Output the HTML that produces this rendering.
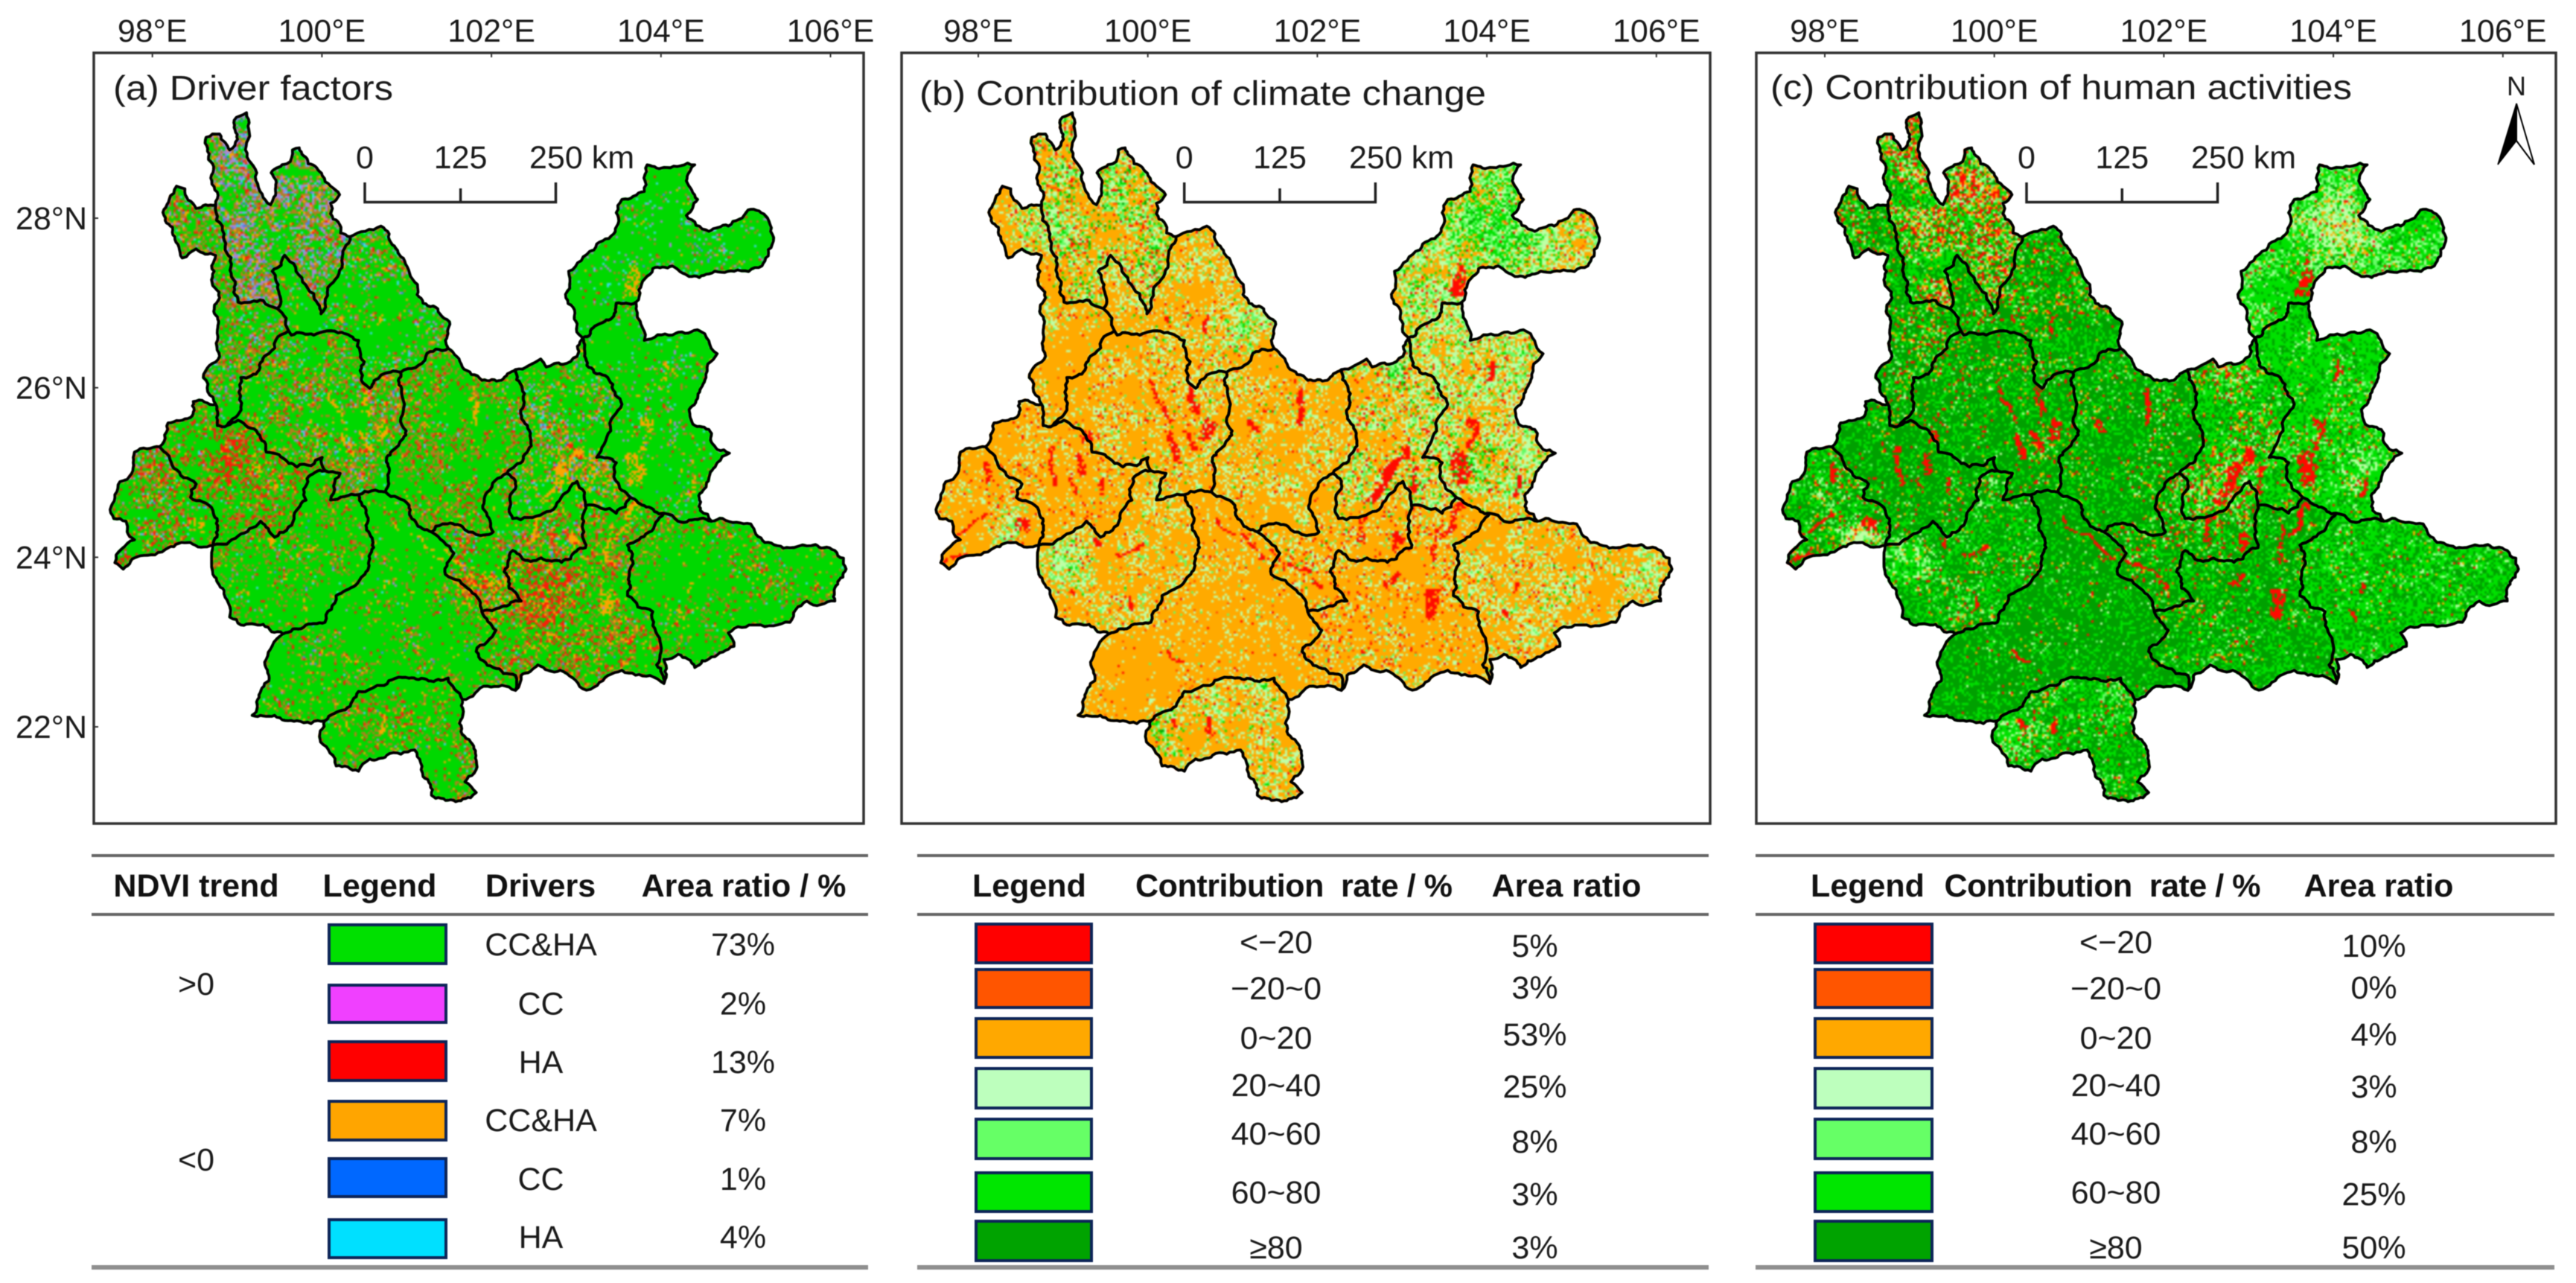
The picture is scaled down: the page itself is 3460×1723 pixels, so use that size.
<!DOCTYPE html>
<html lang="en">
<head>
<meta charset="utf-8">
<title>NDVI driver factors in Yunnan</title>
<style>
html,body{margin:0;padding:0;background:#fff;}
#stage{position:relative;width:3460px;height:1723px;overflow:hidden;background:#fff;}
#stage canvas{position:absolute;top:140px;filter:blur(1.1px);}
#overlay{position:absolute;left:0;top:0;filter:blur(.6px);}
#overlay text{font-family:"Liberation Sans",Arial,sans-serif;font-size:43px;fill:#1a1a1a;white-space:pre;}
#overlay .hd{font-weight:bold;fill:#111;}
#overlay .c{text-anchor:middle;}
.rule{stroke:#666;stroke-width:4;}
.rule-b{stroke:#8f8f8f;stroke-width:6;}
.sw{stroke:#0d2558;stroke-width:4;}
</style>
</head>
<body>
<div id="stage">
<svg id="overlay" width="3460" height="1723" viewBox="0 0 3460 1723" xmlns="http://www.w3.org/2000/svg">

  <g id="panel-a">
    <rect x="126" y="71" width="1034" height="1035" fill="none" stroke="#333" stroke-width="3.5"/>
    <text x="152" y="134" style="font-size:46px" textLength="376" lengthAdjust="spacingAndGlyphs">(a) Driver factors</text>
    <g>
      <path d="M490 245V271.5H746.5V245M618.6 253V271.5" fill="none" stroke="#222" stroke-width="3.5"/>
      <text class="c" x="490" y="226">0</text><text class="c" x="618.6" y="226">125</text><text x="711" y="226">250 km</text>
    </g>
  </g>

  <g id="panel-b">
    <rect x="1211" y="71" width="1086" height="1035" fill="none" stroke="#333" stroke-width="3.5"/>
    <text x="1235" y="141" style="font-size:46px" textLength="761" lengthAdjust="spacingAndGlyphs">(b) Contribution of climate change</text>
    <g>
      <path d="M1590.7 245V271.5H1847.4V245M1719 253V271.5" fill="none" stroke="#222" stroke-width="3.5"/>
      <text class="c" x="1590.7" y="226">0</text><text class="c" x="1719" y="226">125</text><text x="1812" y="226">250 km</text>
    </g>
  </g>

  <g id="panel-c">
    <rect x="2359" y="71" width="1074" height="1035" fill="none" stroke="#333" stroke-width="3.5"/>
    <text x="2378" y="133" style="font-size:46px" textLength="781" lengthAdjust="spacingAndGlyphs">(c) Contribution of human activities</text>
    <g>
      <path d="M2722 245V271.5H2978.6V245M2850.3 253V271.5" fill="none" stroke="#222" stroke-width="3.5"/>
      <text class="c" x="2722" y="226">0</text><text class="c" x="2850.3" y="226">125</text><text x="2943" y="226">250 km</text>
    </g>
    <g>
      <text class="c" x="3380" y="128" style="font-size:36px">N</text>
      <path d="M3380 139L3355 221L3380 189Z" fill="#000" stroke="#000" stroke-width="1.5"/>
      <path d="M3380 139L3404 221L3380 189Z" fill="#fff" stroke="#000" stroke-width="2"/>
    </g>
  </g>

  <g id="table-a">
    <line class="rule" x1="123" y1="1149" x2="1166" y2="1149"/>
    <line class="rule" x1="123" y1="1228" x2="1166" y2="1228"/>
    <line class="rule-b" x1="123" y1="1702" x2="1166" y2="1702"/>
    <text class="hd c" x="263.5" y="1204">NDVI trend</text>
    <text class="hd c" x="510" y="1204">Legend</text>
    <text class="hd c" x="726" y="1204">Drivers</text>
    <text class="hd c" x="999" y="1204">Area ratio / %</text>
    <text class="c" x="263.5" y="1336">&gt;0</text>
    <text class="c" x="263.5" y="1572">&lt;0</text>
    <rect class="sw" x="442" y="1242" width="157" height="52" fill="#00e000"/>
    <rect class="sw" x="442" y="1323" width="157" height="50" fill="#f040ff"/>
    <rect class="sw" x="442" y="1399" width="157" height="52" fill="#ff0000"/>
    <rect class="sw" x="442" y="1479" width="157" height="52" fill="#ffa500"/>
    <rect class="sw" x="442" y="1556" width="157" height="51" fill="#0068ff"/>
    <rect class="sw" x="442" y="1638" width="157" height="51" fill="#00e0ff"/>
    <text class="c" x="726.5" y="1283">CC&amp;HA</text><text class="c" x="998" y="1283">73%</text>
    <text class="c" x="726.5" y="1362.5">CC</text><text class="c" x="998" y="1362.5">2%</text>
    <text class="c" x="726.5" y="1441">HA</text><text class="c" x="998" y="1441">13%</text>
    <text class="c" x="726.5" y="1519">CC&amp;HA</text><text class="c" x="998" y="1519">7%</text>
    <text class="c" x="726.5" y="1598">CC</text><text class="c" x="998" y="1598">1%</text>
    <text class="c" x="726.5" y="1676">HA</text><text class="c" x="998" y="1676">4%</text>
  </g>

  <g id="table-b">
    <line class="rule" x1="1232" y1="1149" x2="2295" y2="1149"/>
    <line class="rule" x1="1232" y1="1228" x2="2295" y2="1228"/>
    <line class="rule-b" x1="1232" y1="1702" x2="2295" y2="1702"/>
    <text class="hd c" x="1382.4" y="1204">Legend</text>
    <text class="hd" x="1525" y="1204" textLength="426" lengthAdjust="spacing">Contribution  rate / %</text>
    <text class="hd c" x="2104" y="1204">Area ratio</text>
    <rect class="sw" x="1311" y="1241" width="155" height="52" fill="#ff0000"/>
    <rect class="sw" x="1311" y="1302" width="155" height="51" fill="#ff5500"/>
    <rect class="sw" x="1311" y="1368" width="155" height="52" fill="#ffa800"/>
    <rect class="sw" x="1311" y="1435" width="155" height="53" fill="#bdffbd"/>
    <rect class="sw" x="1311" y="1503" width="155" height="53" fill="#66ff66"/>
    <rect class="sw" x="1311" y="1575" width="155" height="52" fill="#00e600"/>
    <rect class="sw" x="1311" y="1640" width="155" height="53" fill="#00a300"/>
    <text class="c" x="1714" y="1280">&lt;−20</text><text class="c" x="2061.5" y="1285">5%</text>
    <text class="c" x="1714" y="1342">−20~0</text><text class="c" x="2061.5" y="1341">3%</text>
    <text class="c" x="1714" y="1408.5">0~20</text><text class="c" x="2061.5" y="1404">53%</text>
    <text class="c" x="1714" y="1472">20~40</text><text class="c" x="2061.5" y="1474">25%</text>
    <text class="c" x="1714" y="1537">40~60</text><text class="c" x="2061.5" y="1548">8%</text>
    <text class="c" x="1714" y="1616">60~80</text><text class="c" x="2061.5" y="1618.5">3%</text>
    <text class="c" x="1714" y="1690">≥80</text><text class="c" x="2061.5" y="1690">3%</text>
  </g>

  <g id="table-c">
    <line class="rule" x1="2358" y1="1149" x2="3431" y2="1149"/>
    <line class="rule" x1="2358" y1="1228" x2="3431" y2="1228"/>
    <line class="rule-b" x1="2358" y1="1702" x2="3431" y2="1702"/>
    <text class="hd c" x="2508.5" y="1204">Legend</text>
    <text class="hd" x="2611.5" y="1204" textLength="425" lengthAdjust="spacing">Contribution  rate / %</text>
    <text class="hd c" x="3195" y="1204">Area ratio</text>
    <rect class="sw" x="2438" y="1241" width="157" height="52" fill="#ff0000"/>
    <rect class="sw" x="2438" y="1302" width="157" height="51" fill="#ff5500"/>
    <rect class="sw" x="2438" y="1368" width="157" height="52" fill="#ffa800"/>
    <rect class="sw" x="2438" y="1435" width="157" height="53" fill="#bdffbd"/>
    <rect class="sw" x="2438" y="1503" width="157" height="53" fill="#66ff66"/>
    <rect class="sw" x="2438" y="1575" width="157" height="52" fill="#00e600"/>
    <rect class="sw" x="2438" y="1640" width="157" height="53" fill="#00a300"/>
    <text class="c" x="2842" y="1280">&lt;−20</text><text class="c" x="3188.6" y="1285">10%</text>
    <text class="c" x="2842" y="1342">−20~0</text><text class="c" x="3188.6" y="1341">0%</text>
    <text class="c" x="2842" y="1408.5">0~20</text><text class="c" x="3188.6" y="1404">4%</text>
    <text class="c" x="2842" y="1472">20~40</text><text class="c" x="3188.6" y="1474">3%</text>
    <text class="c" x="2842" y="1537">40~60</text><text class="c" x="3188.6" y="1548">8%</text>
    <text class="c" x="2842" y="1616">60~80</text><text class="c" x="3188.6" y="1618.5">25%</text>
    <text class="c" x="2842" y="1690">≥80</text><text class="c" x="3188.6" y="1690">50%</text>
  </g>
</svg>
</div>

<script>
// Axis values
const lonTicks = [98, 100, 102, 104, 106];
const latTicks = [28, 26, 24, 22];
const panelNames = ['a', 'b', 'c'];

// Boundary arcs, in traced map units
const O_dq=[[385,385],[378,340],[372,300],[368,258],[392,252],[402,268],[410,282],[424,262],[418,226],[440,212],[443,262],[452,312],[468,365],[483,385],[484,325],[512,308],[522,282],[534,278],[550,308],[575,330],[590,350],[606,366],[590,382],[590,402],[608,438],[625,445]];
const A_dq_lj=[[625,445],[610,490],[590,535],[573,590],[560,552],[540,530],[508,480],[486,510],[495,580]];
const A_dq_nj=[[495,580],[470,565],[425,568],[420,530],[400,440],[385,385]];
const O_lj=[[625,445],[652,435],[680,425],[700,460],[722,490],[745,535],[755,570],[785,590],[802,605],[795,640],[800,655]];
const A_lj_cx=[[800,655],[760,670],[715,700]];
const A_lj_dl=[[715,700],[680,705],[660,730],[645,715],[650,680],[640,640],[610,625],[560,630],[520,630],[515,622]];
const A_lj_nj=[[515,622],[495,580]];
const O_nj=[[385,385],[350,392],[330,355],[315,350],[302,375],[295,415],[312,445],[325,485],[350,468],[385,480],[392,560],[388,620],[392,670],[363,710],[385,760]];
const A_nj_bs=[[385,760],[388,800],[405,800]];
const A_nj_dl=[[405,800],[430,765],[430,710],[480,665],[515,622]];
const A_dl_cx=[[715,700],[722,760],[725,810],[690,860],[688,925]];
const A_dl_pe=[[688,925],[640,930]];
const A_dl_lc=[[640,930],[590,940],[607,890],[580,885]];
const A_dl_bs=[[580,885],[575,860],[530,878],[475,850],[460,815],[425,790],[405,800]];
const A_bs_lc=[[580,885],[548,900],[525,975],[490,1010],[465,980],[380,1025]];
const O_bs=[[385,760],[345,755],[340,785],[300,795],[285,840]];
const A_bs_dh=[[285,840],[310,880],[350,910],[340,935],[380,960],[380,1025]];
const O_dh=[[285,840],[240,850],[235,890],[205,930],[203,975],[225,980],[240,1015],[205,1058],[220,1070],[250,1045],[300,1030],[380,1025]];
const A_lc_pe=[[640,930],[655,970],[635,1100],[600,1120],[580,1170],[505,1192]];
const O_lc=[[505,1192],[430,1175],[410,1160],[400,1110],[380,1080],[380,1025]];
const A_pe_cx=[[688,925],[730,950],[770,1000]];
const A_pe_yx=[[770,1000],[810,1040],[795,1080],[840,1110],[860,1150]];
const A_pe_hh=[[860,1150],[885,1185],[850,1225],[920,1270],[920,1298]];
const O_pe1=[[920,1298],[870,1290],[825,1315]];
const A_pe_xs=[[825,1315],[800,1275],[730,1275],[640,1300],[580,1355]];
const O_pe2=[[580,1355],[530,1355],[490,1345],[450,1345],[480,1280],[475,1240],[505,1192]];
const O_xs=[[825,1315],[820,1360],[840,1395],[850,1430],[830,1470],[850,1490],[840,1500],[770,1495],[755,1460],[740,1410],[690,1420],[640,1450],[600,1440],[572,1395],[580,1355]];
const O_cx=[[800,655],[825,690],[860,715],[895,715],[920,695]];
const A_cx_km=[[920,695],[932,730],[945,810],[920,875],[905,890]];
const A_cx_yx=[[905,890],[870,925],[865,960],[880,1000],[850,1005],[825,990],[790,985],[770,1000]];
const O_km=[[920,695],[965,675],[975,690],[1005,685],[1030,670],[1040,635]];
const A_km_qj=[[1040,635],[1060,700],[1110,760],[1090,810],[1065,860],[1100,870],[1100,905],[1125,935]];
const A_km_hh=[[1125,935],[1100,965],[1045,950]];
const A_km_yx=[[1045,950],[1030,905],[1005,930],[970,965],[915,975],[920,905],[905,890]];
const A_yx_hh=[[1045,950],[1045,1030],[985,1055],[915,1035],[900,1075],[930,1130],[860,1150]];
const A_hh_qj=[[1125,935],[1185,965]];
const A_hh_ws=[[1185,965],[1120,1025],[1130,1060],[1120,1120],[1165,1150],[1172,1250],[1185,1285]];
const O_hh=[[1185,1285],[1160,1270],[1110,1260],[1085,1270],[1040,1295],[1000,1260],[960,1250],[930,1270],[920,1298]];
const A_qj_ws=[[1185,965],[1210,980],[1250,975],[1270,980]];
const O_ws=[[1270,980],[1290,975],[1340,985],[1365,1020],[1410,1030],[1470,1030],[1490,1035],[1510,1070],[1490,1130],[1440,1130],[1410,1170],[1350,1175],[1300,1190],[1310,1215],[1270,1235],[1240,1255],[1210,1230],[1185,1240],[1185,1285]];
const A_qj_zt=[[1040,635],[1090,600],[1100,570],[1135,568]];
const O_qj=[[1135,568],[1140,600],[1150,640],[1200,630],[1245,620],[1280,665],[1260,710],[1230,770],[1240,800],[1270,815],[1280,845],[1302,852],[1280,870],[1265,900],[1250,960],[1270,980]];
const O_zt=[[1040,635],[1025,600],[1010,560],[1015,510],[1060,470],[1095,440],[1100,400],[1110,375],[1150,360],[1155,310],[1190,315],[1240,310],[1225,340],[1245,375],[1225,405],[1265,435],[1300,425],[1335,395],[1370,410],[1378,460],[1360,500],[1310,510],[1265,515],[1230,520],[1200,500],[1165,505],[1140,545],[1135,568]];
const R = a => a.slice().reverse();

const regionNames = ['diqing','nujiang','lijiang','dali','baoshan','dehong','lincang','puer','xishuangbanna','chuxiong','kunming','yuxi','honghe','wenshan','qujing','zhaotong'];
const regionArcs = [
  [O_dq,A_dq_lj,A_dq_nj],
  [O_nj,A_nj_bs,A_nj_dl,A_lj_nj,A_dq_nj],
  [R(A_dq_lj),O_lj,A_lj_cx,A_lj_dl,A_lj_nj],
  [R(A_lj_dl),A_dl_cx,A_dl_pe,A_dl_lc,A_dl_bs,A_nj_dl],
  [O_bs,A_bs_dh,R(A_bs_lc),A_dl_bs,R(A_nj_bs)],
  [O_dh,R(A_bs_dh)],
  [R(A_bs_lc),R(A_dl_lc),A_lc_pe,O_lc],
  [R(A_lc_pe),R(A_dl_pe),A_pe_cx,A_pe_yx,A_pe_hh,O_pe1,A_pe_xs,O_pe2],
  [R(A_pe_xs),O_xs],
  [R(A_lj_cx),O_cx,A_cx_km,A_cx_yx,R(A_pe_cx),R(A_dl_cx)],
  [R(A_cx_km),O_km,A_km_qj,A_km_hh,A_km_yx],
  [R(A_cx_yx),R(A_km_yx),A_yx_hh,R(A_pe_yx)],
  [R(A_yx_hh),R(A_km_hh),A_hh_qj,A_hh_ws,O_hh,R(A_pe_hh)],
  [A_qj_ws,O_ws,R(A_hh_ws)],
  [O_qj,R(A_qj_ws),R(A_hh_qj),R(A_km_qj),A_qj_zt],
  [O_zt,R(A_qj_zt)]
];

// Class palettes and per-prefecture class shares
const driverColors = [[0,216,0],[170,130,215],[250,30,10],[250,165,0],[70,130,230],[60,215,235],[178,125,30]];
const rateColors = [[255,10,0],[255,85,0],[255,170,0],[190,255,165],[100,250,100],[0,225,0],[0,160,0]];
const driverShares = [
  [30,22,5,6,4,6,28],[48,6,9,5,1,3,30],[68,4,3,4,1,4,16],[55,3,7,6,1,3,25],
  [60,1,15,4,0,1,19],[55,2,14,6,1,3,19],[72,1,5,3,.5,1,17],[80,1,3,3,.5,.5,12],
  [65,1,7,5,.5,1,20],[60,1,8,4,.5,2,25],[55,6,5,10,1,5,18],[50,3,12,8,1,3,23],
  [55,1,14,8,.5,.5,21],[75,1,5,3,.5,1,15],[85,3,2,2,.5,2,6],[88,3,1,1,.5,2,4]
];
const climateShares = [
  [6,6,34,25,18,9,2],[3,3,66,22,5,1,0],[2,2,60,28,7,1,0],[3,3,64,24,5,1,0],
  [3,3,76,16,2,0,0],[3,2,76,16,3,0,0],[2,2,56,30,9,1,0],[1,2,82,14,1,0,0],
  [2,2,52,30,11,3,0],[2,2,62,28,5,1,0],[5,4,34,34,16,6,1],[6,5,60,22,6,1,0],
  [5,4,70,17,4,0,0],[2,3,54,32,8,1,0],[3,3,32,40,18,4,0],[2,2,22,40,24,10,0]
];
const humanShares = [
  [18,2,14,10,14,24,18],[7,1,6,3,7,24,52],[7,1,5,3,6,26,52],[6,1,4,2,5,23,59],
  [3,0,3,1,3,22,68],[8,1,7,7,11,28,38],[4,1,4,4,11,28,48],[1,0,1,1,2,20,75],
  [4,1,4,5,13,33,40],[3,0,3,2,4,26,62],[11,2,8,6,12,36,25],[8,1,4,3,7,28,49],
  [3,0,3,2,5,30,57],[2,0,2,3,7,50,36],[3,0,4,5,11,55,22],[3,0,4,12,20,50,11]
];
// Local departures from the prefecture shares
const driverZones = [
  {c:[410,850],r:70,s:[35,0,42,6,0,1,16]},{c:[960,1120],r:90,s:[38,0,32,12,1,1,16]},
  {c:[860,1090],r:70,s:[35,0,22,24,1,1,17]},{c:[1020,900],r:70,s:[42,6,8,24,2,5,13]}
];
const climateZones = [
  {c:[1195,410],r:115,s:[1,1,4,16,26,46,6]},{c:[1165,870],r:65,s:[4,3,12,26,26,27,2]},
  {c:[595,1385],r:55,s:[3,2,15,26,26,26,2]},{c:[430,1060],r:60,s:[2,1,22,42,28,5,0]},
  {c:[327,1000],r:50,s:[3,2,28,36,26,5,0]},{c:[532,350],r:65,s:[4,4,20,26,26,18,2]},
  {c:[1458,1060],r:65,s:[1,1,24,46,25,3,0]},{c:[756,620],r:55,s:[2,2,22,40,28,6,0]},
  {c:[1019,700],r:40,s:[4,4,15,30,28,14,5]},{c:[380,420],r:70,s:[3,3,26,36,24,7,1]}
];
const humanZones = [
  {c:[1185,420],r:95,s:[3,0,15,52,22,7,1]},{c:[332,1010],r:48,s:[8,0,10,40,24,15,3]},
  {c:[418,1060],r:65,s:[4,0,8,34,28,21,5]},{c:[600,1385],r:55,s:[7,0,9,36,26,18,4]},
  {c:[1223,880],r:62,s:[6,0,12,32,24,21,5]},{c:[993,900],r:85,s:[16,2,14,10,14,34,10]},
  {c:[1002,690],r:48,s:[12,2,18,12,15,31,10]},{c:[514,400],r:105,s:[26,3,20,10,11,20,10]}
];
// Cropland and urban streaks seen in all three maps: ends, width, driver class
const streaks = [
  [581,720,619,790,12,3],[653,730,653,770,25,3],[610,820,620,855,12,3],[643,820,658,845,16,3],[682,800,682,825,22,3],
  [455,860,455,890,22,3],[404,840,404,910,9,2],[490,900,490,925,14,3],[442,905,442,930,6,2],[462,815,466,826,14,2],
  [236,1010,284,960,8,2],[352,980,352,990,25,3],[213,1060,256,1040,7,2],[290,870,295,895,10,2],
  [763,810,768,790,14,3],[849,735,849,785,18,3],
  [1031,840,974,940,22,3],[1055,880,1046,930,10,3],[955,975,955,1010,12,3],[1017,1000,1017,1030,18,3],
  [1135,860,1135,900,32,3],[1151,790,1151,840,14,3],[1194,680,1186,710,8,3],[1232,895,1225,925,10,3],
  [1132,505,1125,540,30,3],
  [1079,1115,1079,1150,30,3],[1089,985,1085,1050,12,3],[1137,945,1108,1000,14,3],[1002,1100,1022,1080,8,2],
  [792,1030,878,1100,6,3],[687,1350,687,1380,10,3],[620,1360,620,1372,10,3],
  [1218,1140,1218,1160,8,3],[1232,1095,1232,1105,8,3],[610,1215,634,1250,5,3],[700,975,782,1050,4,3],
  [437,1110,437,1120,8,3],[524,1040,562,1030,5,3],[485,1015,485,1025,12,3],[548,1125,548,1135,8,3],
  [677,600,682,620,8,3],[610,590,610,600,10,3]
];

// Axis functions
const DEG = 113.85;
const panelX98 = [204.7, 1314, 2451];
const lonToX = (lon, p) => panelX98[p] + (lon - 98) * DEG;
const latToY = lat => 293 + (28 - lat) * DEG;
const FRAME_TOP = 71;
const FRAME_LEFT = 126;
const unitX = u => u / 1.3288;
const unitY = v => v / 1.4;
const CANVAS_LEFT = 140, CANVAS_TOP = 140, CANVAS_W = 1010, CANVAS_H = 945, CELL = 3;

const SVGNS = 'http://www.w3.org/2000/svg';
const overlay = document.getElementById('overlay');
const stage = document.getElementById('stage');

function hash(x, y) { const s = Math.sin(x * 12.9898 + y * 78.233) * 43758.5453; return s - Math.floor(s); }
function splitEdge(a, b, out) {
  const dx = b[0] - a[0], dy = b[1] - a[1], len = Math.hypot(dx, dy);
  if (len < 8) return;
  const n = hash(a[0] + b[0], a[1] - b[1]) - 0.5;
  const m = [(a[0] + b[0]) / 2 - dy * n * 0.34, (a[1] + b[1]) / 2 + dx * n * 0.34];
  splitEdge(a, m, out); out.push(m); splitEdge(m, b, out);
}
function roughEdge(a, b) {
  const swap = a[0] > b[0] || (a[0] === b[0] && a[1] > b[1]);
  const out = [];
  if (swap) { splitEdge(b, a, out); out.reverse(); } else { splitEdge(a, b, out); }
  return out;
}
const regionPolys = regionArcs.map(arcs => {
  const raw = [];
  arcs.forEach(arc => arc.forEach(pt => {
    const last = raw[raw.length - 1];
    if (!last || last[0] !== pt[0] || last[1] !== pt[1]) raw.push(pt);
  }));
  if (raw[0][0] === raw[raw.length - 1][0] && raw[0][1] === raw[raw.length - 1][1]) raw.pop();
  const poly = [];
  raw.forEach((pt, i) => {
    const nx = raw[(i + 1) % raw.length];
    poly.push(pt);
    roughEdge(pt, nx).forEach(q => poly.push(q));
  });
  return poly;
});

// Prefecture lookup raster
const lookup = document.createElement('canvas');
lookup.width = CANVAS_W; lookup.height = CANVAS_H;
const lctx = lookup.getContext('2d', { willReadFrequently: true });
regionPolys.forEach((poly, i) => {
  lctx.fillStyle = 'rgb(' + ((i + 1) * 15) + ',0,0)';
  lctx.beginPath();
  poly.forEach((pt, k) => {
    const x = unitX(pt[0]) - CANVAS_LEFT, y = unitY(pt[1]) - CANVAS_TOP;
    if (k) lctx.lineTo(x, y); else lctx.moveTo(x, y);
  });
  lctx.closePath();
  lctx.fill();
});
const lookupData = lctx.getImageData(0, 0, CANVAS_W, CANVAS_H).data;

function segDist(px, py, s) {
  const vx = s[2] - s[0], vy = s[3] - s[1];
  const l2 = vx * vx + vy * vy || 1;
  let t = ((px - s[0]) * vx + (py - s[1]) * vy) / l2;
  t = Math.max(0, Math.min(1, t));
  return Math.hypot(px - s[0] - t * vx, py - s[1] - t * vy);
}
function prng(seed) {
  let a = seed;
  return () => { a = (a + 0x6D2B79F5) | 0; let t = Math.imul(a ^ (a >>> 15), 1 | a); t = (t + Math.imul(t ^ (t >>> 7), 61 | t)) ^ t; return ((t ^ (t >>> 14)) >>> 0) / 4294967296; };
}
function smooth(t) { return t * t * (3 - 2 * t); }
function valueNoise(u, v, size, seed) {
  const gx = Math.floor(u / size), gy = Math.floor(v / size);
  const fx = smooth(u / size - gx), fy = smooth(v / size - gy);
  const n00 = hash(gx + seed, gy), n10 = hash(gx + 1 + seed, gy);
  const n01 = hash(gx + seed, gy + 1), n11 = hash(gx + 1 + seed, gy + 1);
  return (n00 * (1 - fx) + n10 * fx) * (1 - fy) + (n01 * (1 - fx) + n11 * fx) * fy;
}
const panelColors = [driverColors, rateColors, rateColors];
const panelShares = [driverShares, climateShares, humanShares];
const panelZones = [driverZones, climateZones, humanZones];
const panelClumped = [[1,2,3,4,5,6],[0,1,3,4,5,6],[0,1,2,3,4]];

function paintPanel(p) {
  const cv = document.createElement('canvas');
  
  
  cv.width = CANVAS_W; cv.height = CANVAS_H;
  cv.style.left = (lonToX(98, p) - lonToX(98, 0) + CANVAS_LEFT) + 'px';
  stage.insertBefore(cv, overlay);
  const ctx = cv.getContext('2d');
  const img = ctx.createImageData(CANVAS_W, CANVAS_H);
  const colors = panelColors[p], shares = panelShares[p], zones = panelZones[p], clumped = panelClumped[p];
  const rnd = prng(1337 + p * 101);
  const mix = new Array(colors.length);
  const widthScale = 0.8;
  const streakFill = p === 0 ? 0.62 : 0.9;
  for (let cy = 0; cy < CANVAS_H; cy += CELL) {
    for (let cx = 0; cx < CANVAS_W; cx += CELL) {
      const sx = Math.min(CANVAS_W - 1, cx + 1), sy = Math.min(CANVAS_H - 1, cy + 1);
      const li = (sy * CANVAS_W + sx) * 4;
      if (lookupData[li + 3] < 128) continue;
      const rid = Math.round(lookupData[li] / 15) - 1;
      if (rid < 0 || rid >= shares.length) continue;
      const u = (cx + 1 + CANVAS_LEFT) * 1.3288, v = (cy + 1 + CANVAS_TOP) * 1.4;
      const base = shares[rid];
      for (let k = 0; k < mix.length; k++) mix[k] = base[k];
      for (const z of zones) {
        const d = Math.hypot(u - z.c[0], v - z.c[1]) / z.r;
        if (d < 1) {
          const w = Math.min(1, (1 - d) * 1.6);
          for (let k = 0; k < mix.length; k++) mix[k] = mix[k] * (1 - w) + z.s[k] * w;
        }
      }
      const n = 0.62 * valueNoise(u, v, 46, 17 + p * 31) + 0.38 * valueNoise(u, v, 17, 61 + p * 13);
      const factor = Math.max(0.08, Math.min(1.8, (n - 0.28) * 3.2));
      for (const k of clumped) mix[k] *= factor;
      let total = 0;
      for (let k = 0; k < mix.length; k++) total += mix[k];
      let pick = rnd() * total, cls = mix.length - 1;
      for (let k = 0; k < mix.length; k++) { pick -= mix[k]; if (pick <= 0) { cls = k; break; } }
      const gate = rnd();
      const ju = u + (valueNoise(u, v, 22, 5) - 0.5) * 20;
      const jv = v + (valueNoise(u, v, 22, 97) - 0.5) * 20;
      for (const s of streaks) {
        const hw = s[4] * widthScale / 2 + 1.5;
        const d = segDist(ju, jv, s);
        if (d < hw && gate < streakFill * (1 - 0.45 * d / hw)) {
          cls = p === 0 ? s[5] : 0;
          break;
        }
      }
      const col = colors[cls];
      for (let yy = cy; yy < Math.min(cy + CELL, CANVAS_H); yy++) {
        for (let xx = cx; xx < Math.min(cx + CELL, CANVAS_W); xx++) {
          const o = (yy * CANVAS_W + xx) * 4;
          img.data[o] = col[0]; img.data[o + 1] = col[1]; img.data[o + 2] = col[2]; img.data[o + 3] = 255;
        }
      }
    }
  }
  ctx.putImageData(img, 0, 0);
}

function drawBoundaries(p) {
  const group = document.getElementById('panel-' + panelNames[p]);
  const dx = lonToX(98, p) - lonToX(98, 0);
  regionPolys.forEach((poly, i) => {
    const el = document.createElementNS(SVGNS, 'path');
    
    
    const d = poly.map((pt, k) => (k ? 'L' : 'M') + (unitX(pt[0]) + dx).toFixed(1) + ' ' + unitY(pt[1]).toFixed(1)).join('') + 'Z';
    el.setAttribute('d', d);
    el.setAttribute('fill', 'none');
    el.setAttribute('stroke', '#000');
    el.setAttribute('stroke-width', '3.8');
    el.setAttribute('stroke-linejoin', 'round');
    group.appendChild(el);
  });
}

function drawLonAxis(p) {
  const group = document.getElementById('panel-' + panelNames[p]);
  lonTicks.forEach(lon => {
    const x = lonToX(lon, p);
    const tick = document.createElementNS(SVGNS, 'line');
    
    
    tick.setAttribute('x1', x);
    tick.setAttribute('x2', x);
    tick.setAttribute('y1', FRAME_TOP);
    tick.setAttribute('y2', FRAME_TOP + 6);
    tick.setAttribute('stroke', '#333');
    tick.setAttribute('stroke-width', '2');
    group.appendChild(tick);
    const label = document.createElementNS(SVGNS, 'text');
    
    
    label.setAttribute('class', 'c');
    label.setAttribute('x', x);
    label.setAttribute('y', 56);
    label.textContent = lon + '°E';
    group.appendChild(label);
  });
}

function drawLatAxis() {
  const group = document.getElementById('panel-a');
  latTicks.forEach(lat => {
    const y = latToY(lat);
    const tick = document.createElementNS(SVGNS, 'line');
    
    
    tick.setAttribute('x1', FRAME_LEFT);
    tick.setAttribute('x2', FRAME_LEFT + 6);
    tick.setAttribute('y1', y);
    tick.setAttribute('y2', y);
    tick.setAttribute('stroke', '#333');
    tick.setAttribute('stroke-width', '2');
    group.appendChild(tick);
    const label = document.createElementNS(SVGNS, 'text');
    
    
    label.setAttribute('x', 117);
    label.setAttribute('y', y + 15);
    label.setAttribute('text-anchor', 'end');
    label.textContent = lat + '°N';
    group.appendChild(label);
  });
}

panelNames.forEach((name, p) => {
  paintPanel(p);
  drawBoundaries(p);
  drawLonAxis(p);
});
drawLatAxis();
</script>
</body>
</html>
